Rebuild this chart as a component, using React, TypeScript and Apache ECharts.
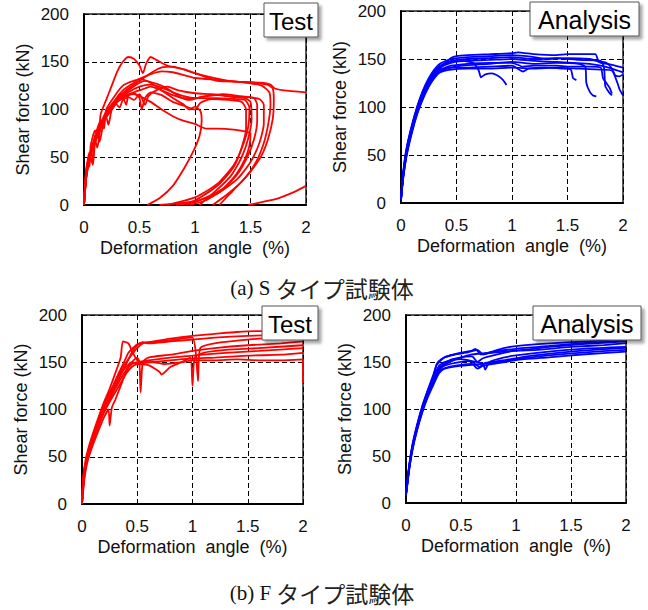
import React, { useEffect, useRef } from "react";
import * as echarts from "echarts";

// ---------- ticks / labels ----------
const xTicks = [0, 0.5, 1, 1.5, 2];
const yTicks = [0, 50, 100, 150, 200];
const xAxisName = "Deformation  angle  (%)";
const yAxisName = "Shear force (kN)";
const panelTags = ["Test", "Analysis", "Test", "Analysis"];
const captionLatin = ["(a) S ", "(b) F "];
const captionJa = ["タイプ試験体", "タイプ試験体"];

// ---------- (a) S type, Test ----------
const sTest1 = [[0,0],[0.01,25],[0.03,45],[0.05,40],[0.06,62],[0.1,78],[0.13,70],[0.15,95],[0.2,110],[0.25,125],[0.3,140],[0.35,150],[0.4,155],[0.45,153],[0.5,146],[0.53,138],[0.56,148],[0.6,155],[0.65,152],[0.75,146],[0.9,142],[1.0,138],[1.1,134],[1.2,130],[1.4,129],[1.6,128],[1.68,126],[1.72,122],[1.8,120],[2.0,118]];
const sTest2 = [[0,0],[0.02,30],[0.05,50],[0.07,45],[0.1,70],[0.15,85],[0.2,98],[0.3,112],[0.4,122],[0.5,130],[0.6,138],[0.7,144],[0.8,145],[0.9,142],[1.0,138],[1.1,135],[1.3,130],[1.5,128],[1.65,126],[1.7,122],[1.71,110],[1.7,90],[1.66,70],[1.6,52],[1.5,35],[1.4,22],[1.3,10],[1.22,0]];
const sTest3 = [[0,0],[0.02,35],[0.05,55],[0.08,50],[0.1,72],[0.15,88],[0.18,80],[0.2,100],[0.3,118],[0.35,125],[0.4,128],[0.5,132],[0.6,137],[0.7,140],[0.8,139],[0.9,136],[1.0,133],[1.2,131],[1.4,129],[1.6,125],[1.67,118],[1.68,105],[1.66,85],[1.62,65],[1.55,45],[1.45,28],[1.3,12],[1.16,0]];
const sTest4 = [[0,0],[0.02,30],[0.05,50],[0.1,68],[0.12,60],[0.15,82],[0.2,95],[0.3,110],[0.4,120],[0.5,128],[0.55,130],[0.65,127],[0.75,122],[0.85,114],[0.95,110],[1.05,113],[1.2,115],[1.35,113],[1.45,112],[1.5,108],[1.51,90],[1.48,70],[1.42,50],[1.32,30],[1.18,14],[1.04,0]];
const sTest5 = [[0,0],[0.02,28],[0.06,50],[0.08,42],[0.1,65],[0.15,80],[0.2,92],[0.22,84],[0.25,100],[0.3,108],[0.35,112],[0.38,105],[0.4,115],[0.45,117],[0.5,112],[0.52,100],[0.55,112],[0.6,118],[0.7,115],[0.8,108],[0.9,104],[1.0,100],[1.05,107],[1.15,111],[1.3,110],[1.42,108],[1.46,100],[1.46,80],[1.42,60],[1.35,40],[1.22,22],[1.05,8],[0.92,0]];
const sTest6 = [[0,0],[0.01,20],[0.04,45],[0.08,62],[0.12,75],[0.14,66],[0.18,88],[0.25,100],[0.3,108],[0.35,112],[0.4,115],[0.45,116],[0.5,114],[0.6,108],[0.7,100],[0.8,93],[0.9,88],[1.0,85],[1.05,82],[1.1,80],[1.2,80],[1.35,79],[1.45,77],[1.5,75],[1.49,62],[1.45,48],[1.37,32],[1.25,17],[1.0,3],[0.83,0]];
const sTest7 = [[0,0],[0.03,40],[0.07,58],[0.12,75],[0.2,95],[0.28,110],[0.35,120],[0.45,128],[0.5,132],[0.6,128],[0.7,120],[0.8,112],[0.9,105],[0.95,100],[1.0,103],[1.05,98],[1.06,88],[1.04,72],[0.98,55],[0.9,38],[0.8,20],[0.68,7],[0.57,0]];
const sTest8 = [[0,0],[0.02,32],[0.05,52],[0.1,70],[0.18,88],[0.25,102],[0.35,113],[0.45,118],[0.55,122],[0.6,124],[0.7,120],[0.8,115],[0.9,112],[1.0,112],[1.1,114],[1.25,116],[1.4,114],[1.53,112],[1.56,105],[1.56,88],[1.53,68],[1.47,50],[1.38,32],[1.25,16],[1.1,5],[0.95,0]];
const sTest9 = [[0,0],[0.02,35],[0.06,55],[0.1,72],[0.16,88],[0.22,100],[0.28,107],[0.32,102],[0.35,110],[0.4,113],[0.45,110],[0.5,116],[0.55,105],[0.58,114],[0.65,120],[0.75,124],[0.85,120],[1.0,117],[1.15,116],[1.3,114],[1.45,113],[1.58,111],[1.62,105],[1.62,85],[1.58,65],[1.5,45],[1.38,27],[1.2,12],[1.0,4],[0.68,0]];
const sTest10 = [[0,0],[0.02,30],[0.05,48],[0.1,66],[0.15,80],[0.2,93],[0.3,108],[0.4,118],[0.5,124],[0.6,126],[0.7,123],[0.8,118],[0.9,114],[1.0,112],[1.2,112],[1.35,111],[1.45,110],[1.49,102],[1.48,82],[1.43,62],[1.35,42],[1.2,22],[1.0,8],[0.75,0]];
const sTest11 = [[1.48,0],[1.6,3],[1.75,7],[1.9,14],[2.0,20]];

// ---------- (a) S type, Analysis ----------
const sAna1 = [[0,3],[0.02,28],[0.05,52],[0.1,78],[0.15,98],[0.2,113],[0.25,124],[0.3,133],[0.35,140],[0.4,146],[0.45,151],[0.5,153],[0.6,154],[0.8,155],[1.0,156],[1.05,157],[1.2,155],[1.4,154],[1.5,155],[1.6,155],[1.75,155],[1.78,148],[1.85,146],[1.9,140],[1.93,133],[1.97,132],[2.0,134]];
const sAna2 = [[0,4],[0.02,30],[0.05,55],[0.1,80],[0.15,100],[0.2,116],[0.25,127],[0.3,135],[0.35,141],[0.45,146],[0.55,148],[0.65,146],[0.7,138],[0.72,131],[0.76,134],[0.82,135],[0.88,132],[0.92,128],[0.95,123]];
const sAna3 = [[0,5],[0.02,27],[0.05,50],[0.1,75],[0.15,95],[0.2,110],[0.25,122],[0.3,131],[0.35,137],[0.45,141],[0.55,143],[0.8,145],[1.0,147],[1.2,145],[1.4,146],[1.6,145],[1.66,142],[1.67,125],[1.7,116],[1.73,112],[1.76,111]];
const sAna4 = [[0,3],[0.02,29],[0.05,53],[0.1,79],[0.15,99],[0.2,114],[0.25,125],[0.3,134],[0.35,139],[0.45,141],[0.6,141],[0.8,142],[1.0,143],[1.1,137],[1.15,140],[1.3,141],[1.45,140],[1.53,139],[1.55,130],[1.58,128]];
const sAna5 = [[0,4],[0.02,31],[0.05,56],[0.1,81],[0.15,101],[0.2,117],[0.25,128],[0.3,137],[0.35,143],[0.45,148],[0.6,150],[0.8,151],[1.0,152],[1.2,150],[1.4,151],[1.6,149],[1.8,148],[1.83,140],[1.84,122],[1.87,116],[1.9,112]];
const sAna6 = [[0,5],[0.02,26],[0.05,49],[0.1,74],[0.15,94],[0.2,109],[0.25,121],[0.3,130],[0.35,136],[0.45,139],[0.6,140],[0.8,140],[1.0,141],[1.2,140],[1.4,141],[1.6,140],[1.8,139],[1.9,138],[1.95,125],[1.97,118],[2.0,112]];
const sAna7 = [[0,3],[0.02,30],[0.05,54],[0.1,80],[0.15,100],[0.2,115],[0.25,127],[0.3,136],[0.35,142],[0.45,147],[0.6,148],[0.8,149],[1.0,150],[1.2,148],[1.4,147],[1.55,146],[1.7,145],[1.8,143],[1.9,140],[1.95,138],[2.0,136]];
const sAna8 = [[0,4],[0.02,28],[0.05,51],[0.1,77],[0.15,97],[0.2,112],[0.25,124],[0.3,133],[0.35,138],[0.45,143],[0.6,145],[0.8,146],[1.0,146],[1.1,142],[1.2,143],[1.4,143],[1.5,142],[1.7,142],[1.8,141],[1.82,130],[1.85,125],[1.88,120],[1.9,114]];
const sAna9 = [[0,5],[0.02,32],[0.05,57],[0.1,82],[0.15,102],[0.2,118],[0.25,130],[0.3,139],[0.35,145],[0.45,150],[0.6,152],[0.8,153],[1.0,154],[1.2,152],[1.3,150],[1.5,151],[1.7,150],[1.76,148],[1.8,146],[1.9,144],[2.0,141]];

// ---------- (b) F type, Test ----------
const fTest1 = [[0,0],[0.01,25],[0.03,45],[0.06,60],[0.1,75],[0.15,92],[0.2,108],[0.25,122],[0.3,138],[0.35,155],[0.37,172],[0.42,170],[0.46,160],[0.5,152],[0.55,150],[0.65,150],[0.75,148],[0.9,150],[1.0,152],[1.2,152],[1.4,153],[1.6,152],[1.8,152],[2.0,153],[2.0,128]];
const fTest2 = [[0,0],[0.02,30],[0.05,50],[0.1,70],[0.15,85],[0.2,102],[0.25,115],[0.3,128],[0.35,140],[0.4,150],[0.45,158],[0.5,165],[0.55,170],[0.6,171],[0.8,175],[1.0,178],[1.2,180],[1.4,182],[1.6,183],[1.8,183],[2.0,180]];
const fTest3 = [[0,0],[0.02,28],[0.05,48],[0.1,66],[0.15,82],[0.2,98],[0.3,122],[0.4,142],[0.45,150],[0.5,155],[0.52,150],[0.53,118],[0.55,150],[0.6,155],[0.8,158],[1.0,162],[1.2,165],[1.5,168],[1.8,170],[2.0,172]];
const fTest4 = [[0,0],[0.02,32],[0.05,52],[0.1,72],[0.15,88],[0.2,104],[0.25,116],[0.3,128],[0.35,138],[0.4,145],[0.45,150],[0.5,148],[0.6,147],[0.7,140],[0.72,137],[0.8,145],[0.9,150],[0.98,155],[1.0,125],[1.02,155],[1.1,160],[1.3,163],[1.6,165],[2.0,168]];
const fTest5 = [[0,0],[0.02,35],[0.06,55],[0.1,70],[0.15,86],[0.2,100],[0.25,112],[0.3,124],[0.4,148],[0.45,160],[0.5,168],[0.55,171],[0.7,172],[0.9,175],[1.0,176],[1.03,160],[1.05,130],[1.07,165],[1.2,170],[1.5,174],[1.8,176],[2.0,176]];
const fTest6 = [[0,0],[0.02,30],[0.06,52],[0.12,74],[0.18,92],[0.25,108],[0.3,118],[0.35,128],[0.4,138],[0.45,145],[0.5,148],[0.6,150],[0.8,152],[1.0,154],[1.2,155],[1.5,157],[1.8,158],[2.0,160]];
const fTest7 = [[0,0],[0.01,28],[0.04,48],[0.08,62],[0.13,80],[0.18,98],[0.22,112],[0.28,125],[0.33,138],[0.38,150],[0.42,160],[0.47,166],[0.5,169],[0.55,171],[0.6,170],[0.8,172],[1.0,174],[1.2,176],[1.5,178],[1.8,179],[2.0,180]];
const fTest8 = [[0,0],[0.02,25],[0.05,45],[0.1,63],[0.15,78],[0.2,92],[0.24,100],[0.25,83],[0.27,102],[0.3,110],[0.35,125],[0.4,140],[0.45,148],[0.5,150],[0.6,152],[0.8,155],[1.0,157],[1.3,160],[1.6,162],[2.0,165]];

// ---------- (b) F type, Analysis ----------
const fAna1 = [[0,10],[0.03,40],[0.06,62],[0.1,82],[0.15,103],[0.2,120],[0.25,135],[0.28,148],[0.32,153],[0.4,157],[0.5,160],[0.6,162],[0.63,164],[0.68,158],[0.75,160],[0.9,165],[1.0,167],[1.2,169],[1.5,171],[1.8,173],[2.0,175]];
const fAna2 = [[0,8],[0.03,38],[0.06,60],[0.1,80],[0.15,100],[0.2,117],[0.25,132],[0.3,143],[0.4,150],[0.5,155],[0.6,156],[0.65,150],[0.7,154],[0.9,160],[1.0,162],[1.3,166],[1.6,169],[2.0,172]];
const fAna3 = [[0,9],[0.03,36],[0.06,58],[0.1,78],[0.15,98],[0.2,115],[0.25,128],[0.3,140],[0.4,145],[0.5,147],[0.6,148],[0.65,143],[0.7,146],[0.9,150],[1.0,152],[1.3,155],[1.6,158],[2.0,161]];
const fAna4 = [[0,10],[0.03,40],[0.06,61],[0.1,80],[0.15,101],[0.2,118],[0.25,133],[0.3,146],[0.35,150],[0.5,153],[0.6,151],[0.7,148],[0.72,142],[0.76,150],[0.9,155],[1.0,157],[1.3,161],[1.6,164],[2.0,166]];
const fAna5 = [[0,8],[0.03,37],[0.06,57],[0.1,77],[0.15,97],[0.2,113],[0.25,126],[0.3,138],[0.35,143],[0.5,146],[0.6,147],[0.8,149],[1.0,153],[1.3,157],[1.6,160],[2.0,163]];
const fAna6 = [[0,10],[0.03,41],[0.06,63],[0.1,83],[0.15,104],[0.2,121],[0.25,137],[0.28,147],[0.35,155],[0.45,158],[0.55,160],[0.65,163],[0.7,158],[0.8,161],[1.0,164],[1.3,167],[1.6,170],[2.0,173]];
const fAna7 = [[0,9],[0.03,38],[0.06,59],[0.1,79],[0.15,99],[0.2,116],[0.25,130],[0.3,141],[0.35,146],[0.45,149],[0.55,151],[0.6,150],[0.67,145],[0.72,149],[0.9,152],[1.1,156],[1.4,160],[1.7,163],[2.0,165]];
const fAna8 = [[0,10],[0.03,39],[0.06,60],[0.1,81],[0.15,102],[0.2,119],[0.25,134],[0.3,144],[0.4,152],[0.5,155],[0.6,158],[0.8,160],[1.0,162],[1.2,163],[1.5,166],[1.8,168],[2.0,170]];

const sTestCurves = [sTest1, sTest2, sTest3, sTest4, sTest5, sTest6, sTest7, sTest8, sTest9, sTest10, sTest11];
const sAnaCurves = [sAna1, sAna2, sAna3, sAna4, sAna5, sAna6, sAna7, sAna8, sAna9];
const fTestCurves = [fTest1, fTest2, fTest3, fTest4, fTest5, fTest6, fTest7, fTest8];
const fAnaCurves = [fAna1, fAna2, fAna3, fAna4, fAna5, fAna6, fAna7, fAna8];

const RED = "#ff0000";
const BLUE = "#0000ff";
const SANS = "Liberation Sans, Arial, sans-serif";

export default function App() {
  const ref = useRef<HTMLDivElement>(null);

  useEffect(() => {
    if (!ref.current) return;
    const chart = echarts.init(ref.current, null, { renderer: "svg" });

    const grids = [
      { left: 84, top: 14, width: 222, height: 191 },
      { left: 401, top: 11, width: 222, height: 192 },
      { left: 82, top: 315, width: 221, height: 189 },
      { left: 406, top: 315, width: 220, height: 188 },
    ];
    const panels = [
      { curves: sTestCurves, color: RED },
      { curves: sAnaCurves, color: BLUE },
      { curves: fTestCurves, color: RED },
      { curves: fAnaCurves, color: BLUE },
    ];

    const split = { show: true, lineStyle: { color: "#000", type: [5, 3] as any, width: 1 } };

    const xAxes = grids.map((_, i) => ({
      type: "value",
      gridIndex: i,
      min: xTicks[0],
      max: xTicks[xTicks.length - 1],
      interval: xTicks[1] - xTicks[0],
      name: xAxisName,
      nameLocation: "middle",
      nameGap: 34,
      nameTextStyle: { fontFamily: SANS, fontSize: 18, color: "#111" },
      axisLine: { show: true, lineStyle: { color: "#000", width: 2 } },
      axisTick: { show: false },
      axisLabel: { fontFamily: SANS, fontSize: 17, color: "#111", margin: 14, showMinLabel: true, showMaxLabel: true },
      splitLine: split,
    }));
    const yAxes = grids.map((_, i) => ({
      type: "value",
      gridIndex: i,
      min: yTicks[0],
      max: yTicks[yTicks.length - 1],
      interval: yTicks[1] - yTicks[0],
      name: yAxisName,
      nameLocation: "middle",
      nameGap: 52,
      nameTextStyle: { fontFamily: SANS, fontSize: 18, color: "#111" },
      axisLine: { show: true, lineStyle: { color: "#000", width: 2 } },
      axisTick: { show: false },
      axisLabel: { fontFamily: SANS, fontSize: 17, color: "#111", margin: 15, showMinLabel: true, showMaxLabel: true },
      splitLine: split,
    }));

    const series: any[] = [];
    panels.forEach((p, i) => {
      p.curves.forEach((c) => {
        series.push({
          type: "line",
          xAxisIndex: i,
          yAxisIndex: i,
          data: c,
          showSymbol: false,
          symbol: "none",
          smooth: 0.2,
          lineStyle: { color: p.color, width: 1.8 },
          silent: true,
        });
      });
    });

    const tagBoxes = [
      { x: 264, y: 3, w: 54, h: 34, size: 24 },
      { x: 530, y: 2, w: 109, h: 34, size: 25 },
      { x: 262, y: 306, w: 56, h: 34, size: 24 },
      { x: 533, y: 306, w: 108, h: 34, size: 25 },
    ];
    const graphic: any[] = [];
    tagBoxes.forEach((b, i) => {
      graphic.push({
        type: "rect",
        z: 100,
        shape: { x: b.x, y: b.y, width: b.w, height: b.h },
        style: {
          fill: "#fff",
          stroke: "#555",
          lineWidth: 1,
          shadowBlur: 3,
          shadowOffsetX: 3,
          shadowOffsetY: 3,
          shadowColor: "rgba(0,0,0,0.35)",
        },
      });
      graphic.push({
        type: "text",
        z: 101,
        x: b.x + b.w / 2,
        y: b.y + b.h / 2 + 1,
        style: {
          text: panelTags[i],
          fontFamily: SANS,
          fontSize: b.size,
          fill: "#000",
          align: "center",
          verticalAlign: "middle",
        },
      });
    });
    const captionY = [288, 593];
    captionY.forEach((cy, i) => {
      graphic.push({
        type: "text",
        z: 101,
        x: 322,
        y: cy,
        style: {
          text: "{a|" + captionLatin[i] + "}{b|" + captionJa[i] + "}",
          align: "center",
          verticalAlign: "middle",
          rich: {
            a: { fontFamily: "Liberation Serif, serif", fontSize: 21, fill: "#111" },
            b: { fontFamily: "Noto Sans CJK JP", fontSize: 23, fill: "#222" },
          },
        },
      });
    });

    chart.setOption({
      animation: false,
      backgroundColor: "#fff",
      grid: grids.map((g) => ({ ...g, show: true, borderColor: "#222", borderWidth: 1.5, containLabel: false })),
      xAxis: xAxes,
      yAxis: yAxes,
      series,
      graphic,
    });

    return () => chart.dispose();
  }, []);

  return (
    <div
      ref={ref}
      style={{ position: "absolute", left: 0, top: 0, width: 648, height: 610 }}
    />
  );
}
